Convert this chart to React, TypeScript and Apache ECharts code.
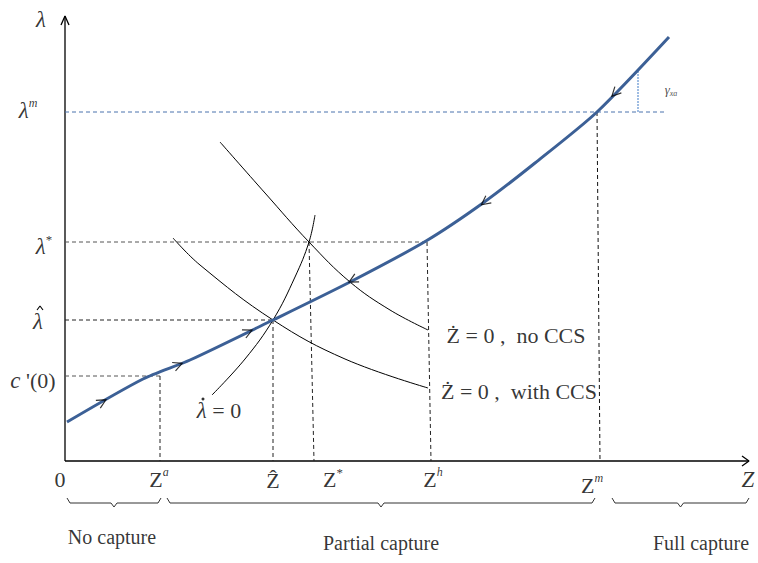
import React, { useEffect, useRef } from "react";
import * as echarts from "echarts";

// ---- Data (Z along horizontal axis, lambda along vertical axis) ----
const LAMBDA_M = 349;
const LAMBDA_STAR = 219;
const LAMBDA_HAT = 141;
const C_PRIME_0 = 85;
const GAMMA_TOP = 391;

const Z_A = 95;
const Z_HAT = 208;
const Z_STAR_TOP = 244;
const Z_STAR = 249;
const Z_H_TOP = 362;
const Z_H = 366;
const Z_M_TOP = 532;
const Z_M = 535;
const Z_GAMMA = 573;
const Z_AXIS_END = 684;
const LAMBDA_AXIS_END = 445;
const LAMBDA_M_LINE_END = 600;

// optimal path (blue)
const bluePath: number[][] = [
  [2, 39], [78, 82], [125, 101], [208, 141], [285, 179], [361, 220],
  [418, 258], [470, 298], [532, 349], [604, 424],
];
// Zdot = 0, no CCS
const noCCS: number[][] = [
  [155, 319], [200, 268], [244, 219], [285, 179], [325, 151], [363, 131],
];
// Zdot = 0, with CCS
const withCCS: number[][] = [
  [108, 223], [135, 196], [208, 141], [280, 102], [363, 73],
];
// lambda dot = 0
const lambdaDotZero: number[][] = [
  [147, 66], [180, 102], [208, 141], [230, 184], [244, 219], [250, 246],
];
// arrows on the path: [Z, lambda, direction]
const pathArrows: number[][] = [
  [37, 59, 1], [113, 96, 1], [183, 129, 1],
  [288, 181, -1], [420, 259, -1], [550, 368, -1],
];
// bottom braces [from, to]
const braceSpans: number[][] = [[2, 96], [102, 530], [547, 684]];
const captions: string[] = ["No capture", "Partial capture", "Full capture"];
const captionZ: number[] = [47, 316, 636];

const SERIF = "'Liberation Serif', 'Times New Roman', serif";

function slopeAngle(z: number, dir: number) {
  let a = bluePath[0], b = bluePath[1];
  for (let i = 0; i < bluePath.length - 1; i++) {
    if (z >= bluePath[i][0] && z <= bluePath[i + 1][0]) {
      a = bluePath[i];
      b = bluePath[i + 1];
      break;
    }
  }
  const deg = (Math.atan2(b[1] - a[1], b[0] - a[0]) * 180) / Math.PI;
  return dir > 0 ? deg : deg + 180;
}

function lineSeries(data: any[], style: any, extra: any = {}) {
  return {
    type: "line",
    data,
    symbol: "none",
    silent: true,
    lineStyle: style,
    z: 2,
    ...extra,
  };
}

function buildOption() {
  const dashed = (color: string) => ({ color, width: 1, type: [4, 3] });
  const series: any[] = [];

  // axes
  series.push(lineSeries([[0, 0], [Z_AXIS_END, 0]], { color: "#000", width: 1.3 }));
  series.push(lineSeries([[0, 0], [0, LAMBDA_AXIS_END]], { color: "#000", width: 1.3 }));
  series.push(
    lineSeries(
      [[-4, LAMBDA_AXIS_END - 9], [0, LAMBDA_AXIS_END], [4, LAMBDA_AXIS_END - 9]],
      { color: "#000", width: 1.3 }
    )
  );
  series.push(
    lineSeries(
      [[Z_AXIS_END - 7, 5], [Z_AXIS_END, 0], [Z_AXIS_END - 7, -5]],
      { color: "#000", width: 1.3 }
    )
  );

  // guides
  series.push(lineSeries([[0, LAMBDA_M], [LAMBDA_M_LINE_END, LAMBDA_M]], dashed("#4a72ad")));
  series.push(lineSeries([[0, LAMBDA_STAR], [Z_H_TOP, LAMBDA_STAR]], dashed("#555")));
  series.push(lineSeries([[0, LAMBDA_HAT], [Z_HAT, LAMBDA_HAT]], dashed("#222")));
  series.push(lineSeries([[0, C_PRIME_0], [Z_A, C_PRIME_0]], dashed("#555")));
  series.push(lineSeries([[Z_A, C_PRIME_0], [Z_A, 0]], dashed("#222")));
  series.push(lineSeries([[Z_HAT, LAMBDA_HAT], [Z_HAT, 0]], dashed("#222")));
  series.push(lineSeries([[Z_STAR_TOP, LAMBDA_STAR], [Z_STAR, 0]], dashed("#222")));
  series.push(lineSeries([[Z_H_TOP, LAMBDA_STAR], [Z_H, 0]], dashed("#222")));
  series.push(lineSeries([[Z_M_TOP, LAMBDA_M], [Z_M, 0]], dashed("#111")));
  series.push(
    lineSeries([[Z_GAMMA, LAMBDA_M], [Z_GAMMA, GAMMA_TOP]], {
      color: "#9fbde3",
      width: 2,
      type: [2, 1],
    })
  );

  // curves
  series.push(lineSeries(noCCS, { color: "#000", width: 1 }, { smooth: 0.4 }));
  series.push(lineSeries(withCCS, { color: "#000", width: 1 }, { smooth: 0.4 }));
  series.push(lineSeries(lambdaDotZero, { color: "#000", width: 1 }, { smooth: 0.4 }));
  series.push(
    lineSeries(bluePath, { color: "#3c6096", width: 3 }, { smooth: 0.25, z: 3 })
  );

  // arrows
  series.push({
    type: "scatter",
    silent: true,
    z: 4,
    symbol: "path://M0,0L8,4L0,8",
    symbolSize: [9, 9],
    itemStyle: { color: "rgba(0,0,0,0)", borderColor: "#000", borderWidth: 1.2 },
    data: pathArrows.map((a) => ({
      value: [a[0], a[1]],
      symbolRotate: slopeAngle(a[0], a[2]),
    })),
  });

  // braces
  braceSpans.forEach((s) => {
    const mid = (s[0] + s[1]) / 2;
    series.push(
      lineSeries(
        [
          [s[0], -37], [s[0] + 3, -42], [mid - 3, -42], [mid, -46],
          [mid + 3, -42], [s[1] - 3, -42], [s[1], -37],
        ],
        { color: "#333", width: 1 }
      )
    );
  });

  // accent marks drawn as tiny shapes (hat over lambda, dot over lambda)
  series.push(
    lineSeries(
      [[-28, LAMBDA_HAT + 10], [-25, LAMBDA_HAT + 14], [-22, LAMBDA_HAT + 10]],
      { color: "#000", width: 1.1 },
      { z: 6 }
    )
  );
  series.push({
    type: "scatter",
    silent: true,
    z: 6,
    symbol: "circle",
    symbolSize: 3,
    itemStyle: { color: "#000" },
    data: [[138, 62]],
  });

  const labels: any[] = [
    { value: [-24, 442], f: "{li|λ}" },
    { value: [-37, LAMBDA_M + 2], f: "{li|λ}{sup|m}" },
    { value: [-21, LAMBDA_STAR - 4], f: "{li|λ}{sups|*}" },
    { value: [-27, LAMBDA_HAT - 1], f: "{li|λ}" },
    { value: [-32, C_PRIME_0 - 4], f: "{li|c}{n| '(0)}" },
    { value: [-5, -18], f: "{n|0}" },
    { value: [Z_A - 1, -18], f: "{n|Z}{sup|a}" },
    { value: [Z_HAT, -19], f: "{n|Ẑ}" },
    { value: [Z_STAR + 19, -18], f: "{n|Z}{sups|*}" },
    { value: [Z_H + 2, -18], f: "{n|Z}{sup|h}" },
    { value: [Z_M - 8, -24], f: "{n|Z}{sup|m}" },
    { value: [Z_AXIS_END - 1, -18], f: "{li|Z}" },
    { value: [154, 51], f: "{li|λ}{n| = 0}" },
    { value: [451, 126], f: "{n|Ż = 0 ,  no CCS}" },
    { value: [454, 70], f: "{n|Ż = 0 ,  with CCS}" },
    { value: [Z_GAMMA + 33, 372], f: "{g|γ}{sub|xa}" },
  ];
  captions.forEach((c, i) => {
    labels.push({ value: [captionZ[i], i === 0 ? -76 : -82], f: `{t|${c}}` });
  });

  series.push({
    type: "scatter",
    silent: true,
    z: 5,
    symbolSize: 1,
    itemStyle: { color: "rgba(0,0,0,0)" },
    data: labels.map((l) => ({
      value: l.value,
      label: { show: true, formatter: l.f },
    })),
    label: {
      show: true,
      position: "inside",
      align: "center",
      verticalAlign: "middle",
      rich: {
        li: { fontFamily: SERIF, fontStyle: "italic", fontSize: 23, color: "#000", lineHeight: 26, verticalAlign: "middle" },
        n: { fontFamily: SERIF, fontSize: 22, color: "#000", lineHeight: 26, verticalAlign: "middle" },
        sup: { fontFamily: SERIF, fontStyle: "italic", fontSize: 12, color: "#000", lineHeight: 14, verticalAlign: "top" },
        sups: { fontFamily: SERIF, fontSize: 13, color: "#000", lineHeight: 14, verticalAlign: "top" },
        g: { fontFamily: SERIF, fontStyle: "italic", fontSize: 13, color: "#222", lineHeight: 16, verticalAlign: "middle" },
        sub: { fontFamily: SERIF, fontStyle: "italic", fontSize: 8, color: "#222", lineHeight: 16, verticalAlign: "bottom" },
        t: { fontFamily: SERIF, fontSize: 20, color: "#000", lineHeight: 24 },
      },
    },
  });

  return {
    animation: false,
    backgroundColor: "#fff",
    grid: { left: 0, right: 0, top: 0, bottom: 0, containLabel: false },
    xAxis: { type: "value", min: -65, max: 693, show: false },
    yAxis: { type: "value", min: -102, max: 461, show: false },
    series,
  };
}

export default function App() {
  const ref = useRef<HTMLDivElement>(null);
  useEffect(() => {
    document.body.style.margin = "0";
    const chart = echarts.init(ref.current!, null, { renderer: "svg" });
    chart.setOption(buildOption() as any);
    return () => chart.dispose();
  }, []);
  return (
    <div
      ref={ref}
      style={{ position: "absolute", left: 0, top: 0, width: 758, height: 563, background: "#fff" }}
    />
  );
}
